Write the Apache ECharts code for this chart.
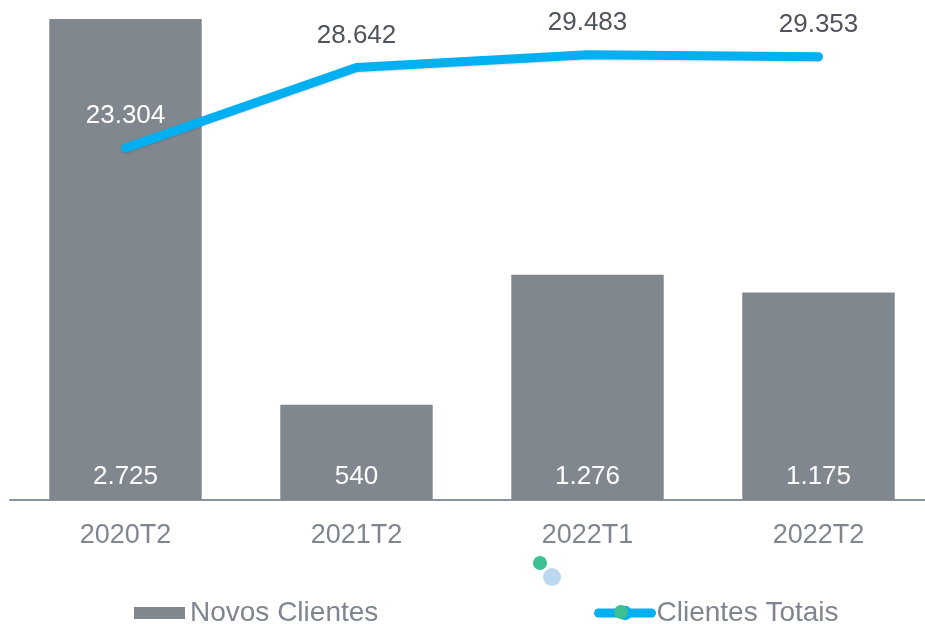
<!DOCTYPE html>
<html>
<head>
<meta charset="utf-8">
<script src="https://cdn.jsdelivr.net/npm/echarts@6/dist/echarts.min.js"></script>
<style>
  html, body { margin: 0; padding: 0; background: #fff; overflow: hidden; }
  /* o eixo passa da borda direita, por isso o div é um pouco mais largo */
  #chart { width: 934px; height: 624px; }
</style>
</head>
<body>
<div id="chart"></div>
<script>
// categorias e valores
const categories = ["2020T2", "2021T2", "2022T1", "2022T2"];
const novosClientes = [2725, 540, 1276, 1175];
const clientesTotais = [23304, 28642, 29483, 29353];
const novosLabels = ["2.725", "540", "1.276", "1.175"];
const totaisLabels = ["23.304", "28.642", "29.483", "29.353"];

const font = "'Liberation Sans', Arial, sans-serif";

const option = {
  animation: false,
  grid: { left: 10, right: 0, top: 19, bottom: 124 },
  legend: [
    {
      left: 134,
      top: 599,
      padding: 0,
      icon: "rect",
      itemWidth: 51,
      itemHeight: 12,
      textStyle: { fontFamily: font, fontSize: 28, color: "#7f868f" },
      data: ["Novos Clientes"],
    },
    {
      left: 594,
      top: 599,
      padding: 0,
      itemWidth: 53,
      itemHeight: 18,
      textStyle: { fontFamily: font, fontSize: 28, color: "#7f868f" },
      data: [
        {
          name: "Clientes Totais",
          itemStyle: { color: "#00b0f0" },
          lineStyle: { color: "#00b0f0", width: 9, cap: "round" },
        },
      ],
    },
  ],
  xAxis: {
    type: "category",
    data: categories,
    axisTick: { show: false },
    axisLine: { lineStyle: { color: "#8c929a", width: 2 } },
    axisLabel: { fontFamily: font, fontSize: 27, color: "#7f868f", margin: 22 },
  },
  yAxis: [
    { type: "value", min: 0, max: 2725, show: false, splitLine: { show: false } },
    { type: "value", min: 0, max: 31850, show: false, splitLine: { show: false } },
  ],
  series: [
    {
      name: "Novos Clientes",
      type: "bar",
      barWidth: "66%",
      itemStyle: { color: "#80878f" },
      label: {
        show: true,
        position: "insideBottom",
        distance: 10,
        color: "#ffffff",
        fontFamily: font,
        fontSize: 26,
        formatter: (p) => novosLabels[p.dataIndex],
      },
      data: novosClientes,
    },
    {
      name: "Clientes Totais",
      type: "line",
      yAxisIndex: 1,
      symbol: "circle",
      symbolSize: 6,
      lineStyle: {
        color: "#00b0f0",
        width: 9,
        cap: "round",
        shadowColor: "rgba(0,0,0,0.15)",
        shadowBlur: 2,
        shadowOffsetY: 1,
      },
      itemStyle: { color: "#00b0f0" },
      label: {
        show: true,
        position: "top",
        distance: 16,
        color: "#50545c",
        fontFamily: font,
        fontSize: 26,
        formatter: (p) => totaisLabels[p.dataIndex],
      },
      data: clientesTotais.map((v, i) =>
        i === 0 ? { value: v, label: { color: "#ffffff" } } : v
      ),
    },
  ],
  graphic: [
    // pontos soltos abaixo do eixo e marcador verde da legenda
    { type: "circle", shape: { cx: 540, cy: 563, r: 7 }, style: { fill: "#3dbf94" } },
    { type: "circle", shape: { cx: 552, cy: 577, r: 9 }, style: { fill: "#bdd7ee" } },
    { type: "circle", z: 100, shape: { cx: 621, cy: 612, r: 7 }, style: { fill: "#3dbf94" } },
  ],
};

const chart = echarts.init(document.getElementById("chart"));
chart.setOption(option);
</script>
</body>
</html>
